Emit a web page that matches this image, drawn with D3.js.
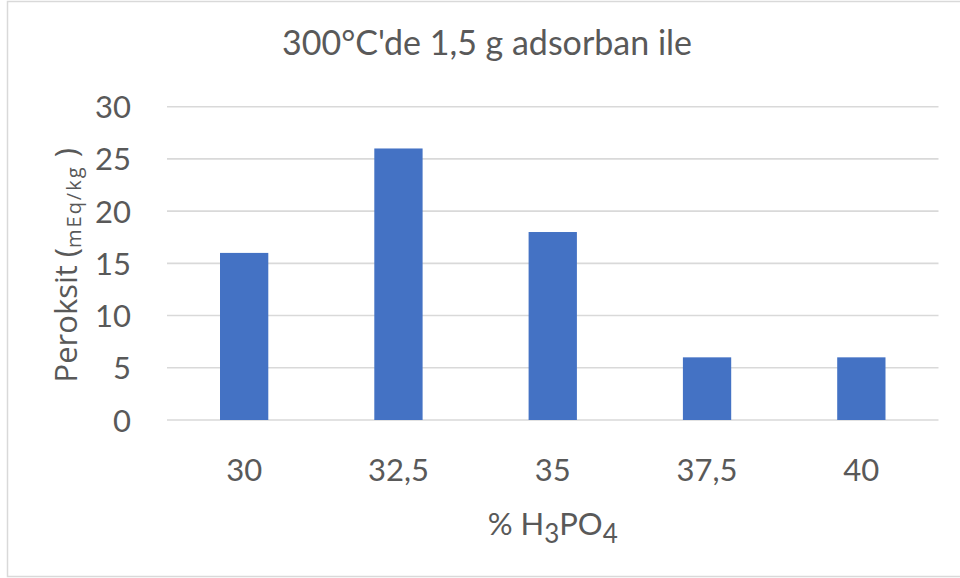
<!DOCTYPE html>
<html>
<head>
<meta charset="utf-8">
<script src="https://cdn.jsdelivr.net/npm/d3@7"></script>
<style>
  html, body { margin: 0; padding: 0; background: #fff; }
  svg { display: block; }
  text { font-family: Lato, "Open Sans", sans-serif; fill: #595959; }
</style>
</head>
<body>
<svg id="chart" width="960" height="578"></svg>
<script>
// Peroxide value against H3PO4 concentration (300°C, 1.5 g adsorbent)
const categories = ["30", "32,5", "35", "37,5", "40"];
const peroxide = [16, 26, 18, 6, 6];
const yTicks = [0, 5, 10, 15, 20, 25, 30];
const titleText = "300°C'de 1,5 g adsorban ile";

const svg = d3.select("#chart");
const W = 960, H = 578;
const plot = { left: 167, right: 938.5, top: 106.7, bottom: 420 };

// chart frame
svg.append("rect")
  .attr("x", 7.5).attr("y", 1.5)
  .attr("width", W).attr("height", 575)
  .attr("fill", "#fff").attr("stroke", "#d9d9d9").attr("stroke-width", 1.5);

const x = d3.scaleBand().domain(categories).range([plot.left, plot.right]).padding(0);
const y = d3.scaleLinear().domain([0, 30]).range([plot.bottom, plot.top]);
const barW = x.bandwidth() * 0.313;

// horizontal gridlines
svg.append("g").selectAll("line").data(yTicks).join("line")
  .attr("x1", plot.left).attr("x2", plot.right)
  .attr("y1", d => y(d)).attr("y2", d => y(d))
  .attr("stroke", "#d9d9d9").attr("stroke-width", 1.6);

// bars
svg.append("g").selectAll("rect").data(peroxide).join("rect")
  .attr("x", (d, i) => x(categories[i]) + x.bandwidth() / 2 - barW / 2)
  .attr("width", barW)
  .attr("y", d => y(d))
  .attr("height", d => y(0) - y(d))
  .attr("fill", "#4472c4");

// y tick labels
svg.append("g").selectAll("text").data(yTicks).join("text")
  .attr("x", 131).attr("y", d => y(d) + 11.5)
  .attr("text-anchor", "end")
  .style("font-size", "31px")
  .text(d => d);

// x tick labels
svg.append("g").selectAll("text").data(categories).join("text")
  .attr("x", d => x(d) + x.bandwidth() / 2).attr("y", 481)
  .attr("text-anchor", "middle")
  .style("font-size", "31px")
  .text(d => d);

// title
svg.append("text")
  .attr("x", 487).attr("y", 55)
  .attr("text-anchor", "middle")
  .style("font-size", "34px")
  .text(titleText);

// x axis title with subscripts
const xl = svg.append("text")
  .attr("x", (plot.left + plot.right) / 2).attr("y", 535)
  .attr("text-anchor", "middle")
  .style("font-size", "31px");
xl.append("tspan").text("% H");
xl.append("tspan").attr("dy", 8).style("font-size", "26px").text("3");
xl.append("tspan").attr("dy", -8).text("PO");
xl.append("tspan").attr("dy", 8).style("font-size", "26px").text("4");

// y axis title
const yl = svg.append("text")
  .attr("transform", `translate(77,${(plot.top + plot.bottom) / 2 + 2}) rotate(-90)`)
  .attr("text-anchor", "middle")
  .style("font-family", "'Open Sans', sans-serif")
  .style("font-size", "31px");
yl.append("tspan").text("Peroksit (");
yl.append("tspan").attr("dy", 4).style("font-size", "20px").style("letter-spacing", "2px").text("mEq/kg");
yl.append("tspan").attr("dy", -4).text(" )");
</script>
</body>
</html>
